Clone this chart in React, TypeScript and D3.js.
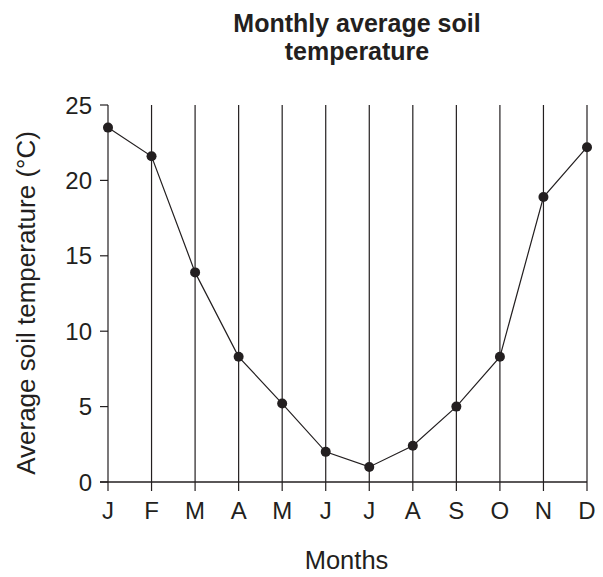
import React from "react";
import * as d3 from "d3";

const months = ["J", "F", "M", "A", "M", "J", "J", "A", "S", "O", "N", "D"];
const temps = [23.5, 21.6, 13.9, 8.3, 5.2, 2.0, 1.0, 2.4, 5.0, 8.3, 18.9, 22.2];
const yTicks = [0, 5, 10, 15, 20, 25];
const titleLines = ["Monthly average soil", "temperature"];
const xTitle = "Months";
const yTitle = "Average soil temperature (°C)";

export default function App() {
  const W = 603, H = 577;
  const x0 = 108, x1 = 587;
  const yTop = 105, yBot = 482;
  const idx = months.map((_, i) => i);
  const x = d3.scaleLinear().domain([0, months.length - 1]).range([x0, x1]);
  const y = d3.scaleLinear().domain([0, 25]).range([yBot, yTop]);
  const line = d3.line<number>().x((_, i) => x(i)).y((d) => y(d));
  const font = "'Liberation Sans', Arial, Helvetica, sans-serif";
  const tc = "#231f20";
  return (
    <svg width={W} height={H} style={{ position: "absolute", left: 0, top: 0 }} fontFamily={font}>
      <rect width={W} height={H} fill="#fff" />
      <text x={357} y={32} textAnchor="middle" fontWeight="bold" fontSize={25} fill={tc}>{titleLines[0]}</text>
      <text x={357} y={60} textAnchor="middle" fontWeight="bold" fontSize={25} fill={tc}>{titleLines[1]}</text>
      {idx.map((i) => (
        <line key={"v" + i} x1={x(i)} x2={x(i)} y1={yTop} y2={yBot + 9} stroke={tc} strokeWidth={1.2} />
      ))}
      <line x1={x0 - 8} x2={x1} y1={yBot} y2={yBot} stroke={tc} strokeWidth={1.3} />
      {yTicks.map((t) => (
        <g key={"y" + t}>
          <line x1={x0 - 8} x2={x0} y1={y(t)} y2={y(t)} stroke={tc} strokeWidth={1.2} />
          <text x={92} y={y(t) + 8.5} textAnchor="end" fontSize={24} fill={tc}>{t}</text>
        </g>
      ))}
      {months.map((m, i) => (
        <text key={"m" + i} x={x(i)} y={519} textAnchor="middle" fontSize={24} fill={tc}>{m}</text>
      ))}
      <path d={line(temps) || ""} fill="none" stroke={tc} strokeWidth={1.2} />
      {temps.map((t, i) => (
        <circle key={"c" + i} cx={x(i)} cy={y(t)} r={5} fill={tc} />
      ))}
      <text x={346.5} y={569} textAnchor="middle" fontSize={25.5} fill={tc}>{xTitle}</text>
      <text transform={`translate(35,303) rotate(-90)`} textAnchor="middle" fontSize={26} fill={tc}>{yTitle}</text>
    </svg>
  );
}
